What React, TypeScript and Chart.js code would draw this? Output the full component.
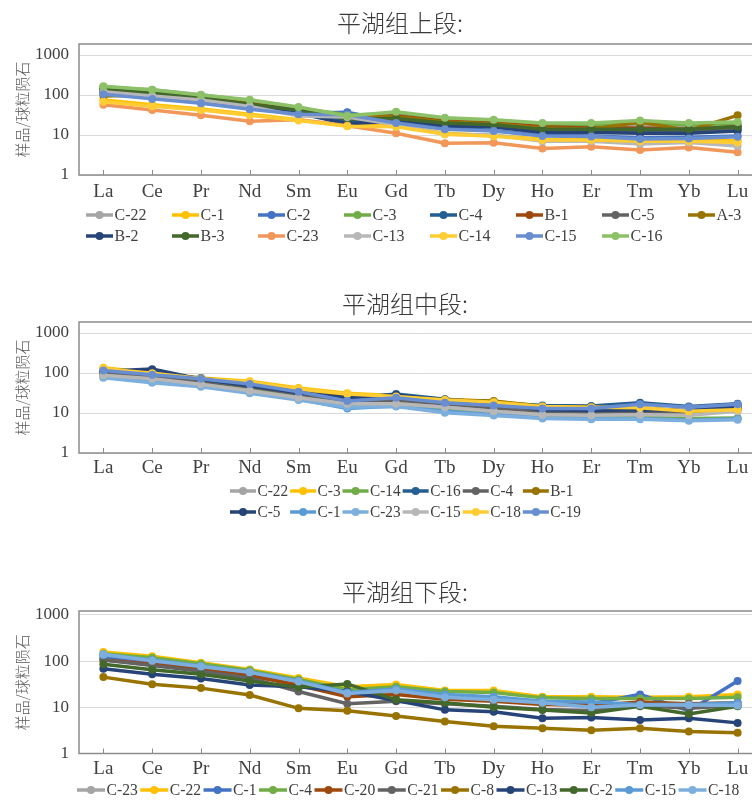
import React, { useEffect, useRef } from "react";
import { Chart, registerables } from "chart.js";

Chart.register(...registerables);

// ---------- shared ----------
const ELEMENTS = ["La", "Ce", "Pr", "Nd", "Sm", "Eu", "Gd", "Tb", "Dy", "Ho", "Er", "Tm", "Yb", "Lu"];
const Y_TICKS = [1, 10, 100, 1000];
const Y_TITLE = "样品/球粒陨石";

// ---------- 平湖组上段 ----------
const UPPER_TITLE = "平湖组上段:";
const UPPER_NAMES = ["C-22", "C-1", "C-2", "C-3", "C-4", "B-1", "C-5", "A-3", "B-2", "B-3", "C-23", "C-13", "C-14", "C-15", "C-16"];
const UPPER_COLORS = ["#A5A5A5", "#FFC000", "#4472C4", "#70AD47", "#255E91", "#9E480E", "#636363", "#997300", "#264478", "#43682B", "#F1975A", "#B7B7B7", "#FFCD33", "#698ED0", "#8CC168"];
const U_C22 = [155, 135, 102, 72, 45, 29, 30, 22, 20, 16, 17, 18, 15, 17];
const U_C1 = [75, 57, 45, 33, 24, 17, 17, 11, 9.7, 7.8, 7.7, 7.3, 7.3, 7.3];
const U_C2 = [110, 85, 65, 46, 35, 37, 21, 15.5, 13, 9.8, 9.5, 8.5, 8.8, 9.5];
const U_C3 = [160, 130, 95, 70, 47, 32, 33, 24, 22, 18, 18, 20, 18, 19];
const U_C4 = [128, 105, 80, 55, 38, 22, 24, 18, 16, 12.5, 12.5, 12, 12, 14];
const U_B1 = [130, 110, 85, 60, 42, 28, 30, 22, 20, 16, 15, 15, 14, 16];
const U_C5 = [125, 105, 80, 55, 38, 26, 25, 19, 17, 14, 14, 13, 13, 15];
const U_A3 = [95, 100, 80, 55, 40, 30, 28, 21, 19, 15, 14, 21, 13, 31];
const U_B2 = [125, 100, 75, 50, 35, 19, 22, 17, 16, 11.5, 11.5, 11, 11, 12.5];
const U_B3 = [135, 112, 85, 58, 42, 25, 26, 20, 18, 14, 14, 14, 14, 16];
const U_C23 = [57, 42, 31, 22, 24, 17, 11, 6.2, 6.4, 4.6, 5.1, 4.2, 4.9, 3.7];
const U_C13 = [120, 95, 75, 52, 30, 28, 18, 10.5, 10, 7, 7, 6, 6.5, 5.3];
const U_C14 = [68, 52, 42, 31, 23, 16.5, 16, 10.5, 9.3, 7.5, 7.5, 7, 7, 6.5];
const U_C15 = [105, 80, 62, 44, 33, 32, 20, 14, 12.5, 9.5, 9.2, 8, 8.2, 9];
const U_C16 = [165, 135, 100, 76, 50, 30, 38, 27, 24, 20, 20, 23, 20, 21];
const UPPER_VALUES = [U_C22, U_C1, U_C2, U_C3, U_C4, U_B1, U_C5, U_A3, U_B2, U_B3, U_C23, U_C13, U_C14, U_C15, U_C16];

// ---------- 平湖组中段 ----------
const MIDDLE_TITLE = "平湖组中段:";
const MIDDLE_NAMES = ["C-22", "C-3", "C-14", "C-16", "C-4", "B-1", "C-5", "C-1", "C-23", "C-15", "C-18", "C-19"];
const MIDDLE_COLORS = ["#A5A5A5", "#FFC000", "#70AD47", "#255E91", "#636363", "#997300", "#264478", "#5B9BD5", "#7CAFDD", "#B7B7B7", "#FFCD33", "#698ED0"];
const M_C22 = [90, 75, 55, 38, 25, 18, 19, 15.5, 11.5, 9.2, 9, 9.2, 9.2, 12];
const M_C3 = [135, 100, 75, 62, 42, 31, 27, 22, 19.5, 15, 14.5, 13, 11, 12.5];
const M_C14 = [95, 75, 55, 38, 24, 16, 17, 13, 10, 8, 7.8, 7.8, 7.3, 7.5];
const M_C16 = [110, 95, 75, 52, 33, 23, 30, 22, 18, 15.5, 15, 18, 14.5, 17];
const M_C4 = [100, 80, 62, 45, 30, 20, 21, 17, 13.5, 11, 10.5, 11, 10.5, 12.5];
const M_B1 = [120, 95, 72, 58, 38, 27, 26, 21, 20, 14.5, 14, 13.5, 11, 13];
const M_C5 = [110, 125, 70, 48, 32, 24, 28, 20, 17, 12, 11.5, 12, 11.5, 15];
const M_C1 = [80, 60, 48, 33, 22, 13, 15, 11, 9.2, 7.6, 7.2, 7.3, 6.6, 7.2];
const M_C23 = [76, 57, 45, 31, 21, 14, 14.5, 10.2, 8.7, 7.3, 7, 7, 6.4, 6.8];
const M_C15 = [88, 72, 52, 36, 24, 17, 17, 14, 11, 9, 8.8, 9, 8.8, 11];
const M_C18 = [128, 98, 73, 60, 40, 30, 26, 21, 18.5, 14.5, 14, 13.5, 11, 12];
const M_C19 = [115, 90, 72, 53, 34, 20, 24, 18, 15.5, 13, 13, 16.5, 14, 16.5];
const MIDDLE_VALUES = [M_C22, M_C3, M_C14, M_C16, M_C4, M_B1, M_C5, M_C1, M_C23, M_C15, M_C18, M_C19];

// ---------- 平湖组下段 ----------
const LOWER_TITLE = "平湖组下段:";
const LOWER_NAMES = ["C-23", "C-22", "C-1", "C-4", "C-20", "C-21", "C-8", "C-13", "C-2", "C-15", "C-18"];
const LOWER_COLORS = ["#A5A5A5", "#FFC000", "#4472C4", "#70AD47", "#9E480E", "#636363", "#997300", "#264478", "#43682B", "#5B9BD5", "#7CAFDD"];
const L_C23 = [120, 95, 72, 52, 32, 20, 22, 18, 16, 12.5, 12, 11.5, 11.5, 11.5];
const L_C22 = [158, 128, 92, 66, 43, 28, 31, 23, 23, 17, 17, 16.5, 17, 19];
const L_C1 = [125, 98, 75, 55, 28, 23, 24, 17, 15, 12.5, 12, 19, 8.4, 37];
const L_C4 = [145, 118, 88, 63, 40, 24, 28, 22, 21, 16, 15.5, 15.5, 15.5, 16.5];
const L_C20 = [105, 85, 65, 48, 30, 17, 19, 15, 13.5, 11.5, 11, 13, 12, 12.5];
const L_C21 = [105, 80, 60, 43, 22, 12, 13.5, 12, 10.5, 9, 8.5, 11, 9.5, 11];
const L_C8 = [45, 31.5, 26, 18.5, 9.5, 8.4, 6.5, 4.9, 3.9, 3.5, 3.2, 3.5, 3, 2.8];
const L_C13 = [68, 52, 42, 30.5, 28, 22, 14, 8.8, 8, 5.8, 6, 5.3, 5.8, 4.6];
const L_C2 = [85, 65, 52, 37, 27, 32, 14.5, 12.5, 10, 8.7, 7.5, 10.5, 7.2, 10.5];
const L_C15 = [135, 105, 78, 58, 37, 21, 25, 19, 17, 13.5, 13, 11.5, 11.5, 12.5];
const L_C18 = [140, 102, 76, 57, 36, 20, 23, 16.5, 14.5, 12.5, 10, 11.2, 11.2, 11];
const LOWER_VALUES = [L_C23, L_C22, L_C1, L_C4, L_C20, L_C21, L_C8, L_C13, L_C2, L_C15, L_C18];

// ---------- plugins ----------
const framePlugin = {
  id: "frame",
  beforeDatasetsDraw(chart: any) {
    const { ctx, chartArea: a } = chart;
    ctx.save();
    ctx.strokeStyle = "#8c8c8c";
    ctx.lineWidth = 1.5;
    ctx.strokeRect(a.left, a.top, a.right - a.left, a.bottom - a.top);
    const xs = chart.scales.x;
    ctx.lineWidth = 1;
    for (let i = 0; i < xs.ticks.length; i++) {
      const x = Math.round(xs.getPixelForTick(i)) + 0.5;
      ctx.beginPath();
      ctx.moveTo(x, a.bottom);
      ctx.lineTo(x, a.bottom - 5);
      ctx.stroke();
    }
    ctx.restore();
  },
  afterDraw(chart: any, _args: any, o: any) {
    const { ctx } = chart;
    ctx.save();
    ctx.fillStyle = "#3a3a3a";
    ctx.font = "300 24px 'Noto Sans CJK SC'";
    ctx.textAlign = "center";
    ctx.textBaseline = "middle";
    ctx.fillText(o.text, o.x, o.y);
    ctx.restore();
  },
};

const legendPlugin = {
  id: "gridLegend",
  afterDraw(chart: any, _args: any, o: any) {
    const { ctx } = chart;
    const ds = chart.data.datasets;
    ctx.save();
    ctx.font = o.font;
    const itemW = (i: number) => o.lineLen + o.textGap + ctx.measureText(ds[i].label).width * o.sx;
    const nCols = Math.max(...o.rows.map((r: number[]) => r.length));
    const colX: number[] = [];
    let cx = o.startX;
    for (let c = 0; c < nCols; c++) {
      colX.push(cx);
      if (o.colWidth) cx += o.colWidth;
      else {
        let m = 0;
        o.rows.forEach((r: number[]) => {
          if (r[c] !== undefined) m = Math.max(m, itemW(r[c]));
        });
        cx += m + o.itemGap;
      }
    }
    o.rows.forEach((r: number[], ri: number) => {
      const y = o.rowY[ri];
      r.forEach((di: number, c: number) => {
        const x = colX[c];
        const col = ds[di].borderColor;
        ctx.strokeStyle = col;
        ctx.fillStyle = col;
        ctx.lineWidth = 3.5;
        ctx.beginPath();
        ctx.moveTo(x, y);
        ctx.lineTo(x + o.lineLen, y);
        ctx.stroke();
        ctx.beginPath();
        ctx.arc(x + o.lineLen / 2, y, 4, 0, Math.PI * 2);
        ctx.fill();
        ctx.save();
        ctx.translate(x + o.lineLen + o.textGap, y);
        ctx.scale(o.sx, 1);
        ctx.fillStyle = "#404040";
        ctx.textAlign = "left";
        ctx.textBaseline = "middle";
        ctx.fillText(ds[di].label, 0, 1);
        ctx.restore();
      });
    });
    ctx.restore();
  },
};

// ---------- chart component ----------
const CANVAS_W = 800;

function REEChart(props: any) {
  const { top, height, areaTop, areaBottom, yMax, title, titleX, titleY, names, colors, values, legend, xPad } = props;
  const ref = useRef<HTMLCanvasElement>(null);
  useEffect(() => {
    const chart = new Chart(ref.current as HTMLCanvasElement, {
      type: "line",
      data: {
        labels: ELEMENTS,
        datasets: names.map((n: string, i: number) => ({
          label: n,
          data: values[i],
          borderColor: colors[i],
          backgroundColor: colors[i],
          pointBackgroundColor: colors[i],
          pointBorderColor: colors[i],
          borderWidth: 3.5,
          pointRadius: 4,
          pointBorderWidth: 0,
          pointHoverRadius: 4,
          tension: 0,
          order: -i,
          clip: false,
        })),
      },
      options: {
        responsive: false,
        animation: false,
        events: [],
        layout: { padding: { top: areaTop, bottom: height - 30 - areaBottom, left: 0, right: 38 } },
        plugins: {
          legend: { display: false },
          title: { display: false },
          tooltip: { enabled: false },
          frame: { text: title, x: titleX, y: titleY },
          gridLegend: legend,
        } as any,
        scales: {
          x: {
            type: "category",
            offset: true,
            grid: { display: false },
            border: { display: false },
            afterFit: (s: any) => {
              s.height = 30;
            },
            ticks: {
              autoSkip: false,
              maxRotation: 0,
              padding: xPad,
              color: "#404040",
              font: { family: "'Liberation Serif'", size: 19 },
            },
          },
          y: {
            type: "logarithmic",
            min: 1,
            max: yMax,
            afterBuildTicks: (s: any) => {
              s.ticks = Y_TICKS.map((v) => ({ value: v }));
            },
            afterFit: (s: any) => {
              s.width = 79;
            },
            grid: { color: "#d9d9d9", lineWidth: 1, drawTicks: false },
            border: { display: false },
            ticks: {
              callback: (v: any) => String(v),
              padding: 10,
              color: "#404040",
              font: { family: "'Liberation Serif'", size: 17 },
            },
            title: {
              display: true,
              text: Y_TITLE,
              color: "#595959",
              font: { family: "'Noto Sans CJK SC'", size: 15, weight: "300" },
              padding: { top: 13, bottom: 0 },
            },
          },
        },
      } as any,
      plugins: [framePlugin, legendPlugin],
    });
    return () => chart.destroy();
  }, []);
  return (
    <canvas
      ref={ref}
      width={CANVAS_W}
      height={height}
      style={{ position: "absolute", left: 0, top, width: CANVAS_W, height }}
    />
  );
}

export default function App() {
  return (
    <div
      style={{
        position: "absolute",
        left: 0,
        top: 0,
        width: 752,
        height: 800,
        overflow: "hidden",
        background: "#ffffff",
      }}
    >
      <REEChart
        top={0}
        height={255}
        areaTop={44}
        areaBottom={175}
        yMax={1884}
        title={UPPER_TITLE}
        titleX={400}
        titleY={23}
        names={UPPER_NAMES}
        colors={UPPER_COLORS}
        values={UPPER_VALUES}
        xPad={-2}
        legend={{
          rows: [
            [0, 1, 2, 3, 4, 5, 6, 7],
            [8, 9, 10, 11, 12, 13, 14],
          ],
          startX: 86,
          colWidth: 86,
          rowY: [215, 236],
          lineLen: 27,
          textGap: 1.5,
          itemGap: 0,
          sx: 0.94,
          font: "17px 'Liberation Serif'",
        }}
      />
      <REEChart
        top={255}
        height={270}
        areaTop={67}
        areaBottom={198}
        yMax={1884}
        title={MIDDLE_TITLE}
        titleX={405}
        titleY={49}
        names={MIDDLE_NAMES}
        colors={MIDDLE_COLORS}
        values={MIDDLE_VALUES}
        xPad={-4}
        legend={{
          rows: [
            [0, 1, 2, 3, 4, 5],
            [6, 7, 8, 9, 10, 11],
          ],
          startX: 230,
          colWidth: 0,
          rowY: [236, 257],
          lineLen: 26,
          textGap: 1.5,
          itemGap: 2,
          sx: 0.9,
          font: "17px 'Liberation Serif'",
        }}
      />
      <REEChart
        top={525}
        height={275}
        areaTop={86}
        areaBottom={228.5}
        yMax={1214}
        title={LOWER_TITLE}
        titleX={405}
        titleY={67}
        names={LOWER_NAMES}
        colors={LOWER_COLORS}
        values={LOWER_VALUES}
        xPad={-4}
        legend={{
          rows: [[0, 1, 2, 3, 4, 5, 6, 7, 8, 9, 10]],
          startX: 77,
          colWidth: 0,
          rowY: [265],
          lineLen: 28,
          textGap: 1.5,
          itemGap: 2.5,
          sx: 0.92,
          font: "17px 'Liberation Serif'",
        }}
      />
    </div>
  );
}
